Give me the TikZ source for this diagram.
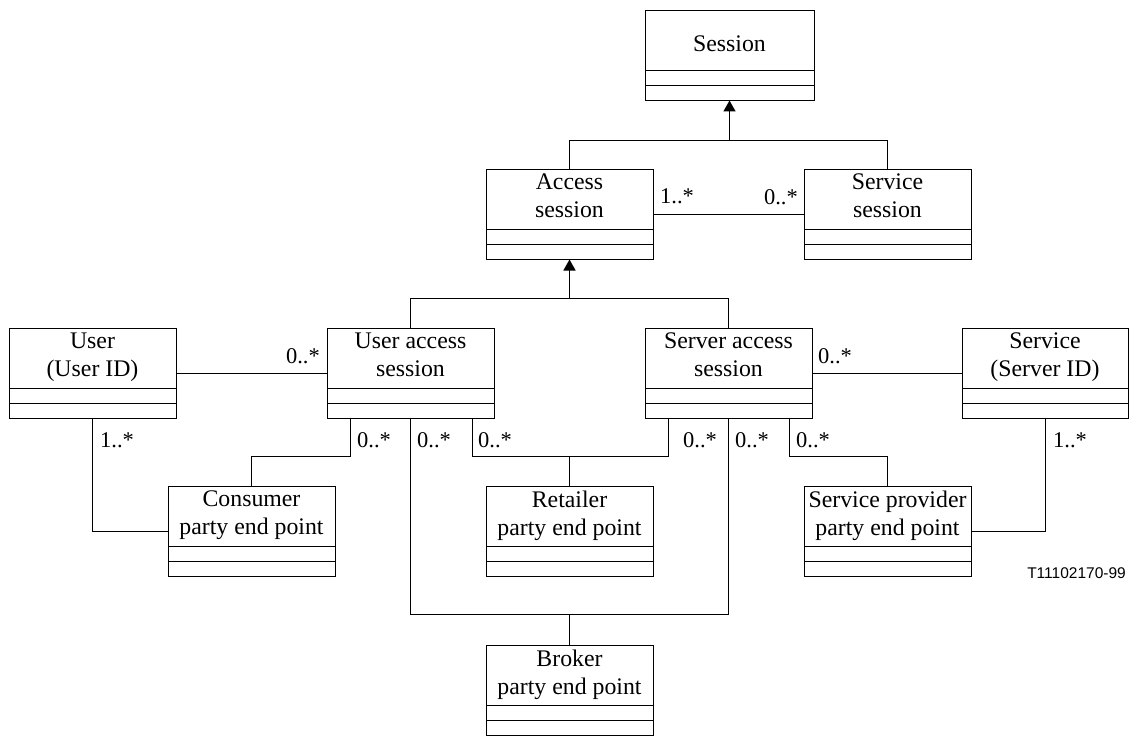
\documentclass[tikz,border=0pt]{standalone}
\usepackage{fontspec}
\setmainfont{Liberation Serif}
\newfontfamily\tagfont{Liberation Sans}
\usetikzlibrary{arrows.meta}

\tikzset{
  cls/.style={draw, line width=0.8pt, inner sep=0pt, outer sep=0pt,
    anchor=north west, minimum width=167pt, minimum height=90.5pt,
    path picture={
      \draw[line width=1.6pt]
        ([yshift=30pt]path picture bounding box.south west) --
        ([yshift=30pt]path picture bounding box.south east)
        ([yshift=15pt]path picture bounding box.south west) --
        ([yshift=15pt]path picture bounding box.south east);
    }},
  ctext/.style={anchor=north, align=center, inner sep=0pt,
    font=\fontsize{23.8}{27.5}\selectfont},
  mult/.style={inner sep=0pt, font=\fontsize{22.5}{26}\selectfont},
  conn/.style={line width=0.9pt},
  stub/.style={line width=1.5pt},
  gen/.style={line width=1.5pt, -{Triangle[width=12pt,length=11pt]}},
}

\begin{document}
\begin{tikzpicture}[x=1pt,y=-1pt]
\useasboundingbox (0,0) rectangle (1130,738);

% class boxes
\node[cls, minimum width=169pt] (session) at (645,10) {};
\node[cls] (access)   at (486,169) {};
\node[cls] (svs)      at (804,169) {};
\node[cls] (user)     at (9,328) {};
\node[cls] (uas)      at (327,328) {};
\node[cls] (sas)      at (645,328) {};
\node[cls, minimum width=166pt] (service) at (962,328) {};
\node[cls] (consumer) at (168,486) {};
\node[cls] (retailer) at (486,486) {};
\node[cls] (sp)       at (804,486) {};
\node[cls] (broker)   at (486,645) {};

% class names
\node[anchor=base, inner sep=0pt, font=\fontsize{23.8}{27.5}\selectfont]
  (session-t) at ([yshift=-42pt]session.north) {Session};
\node[ctext] (access-t)   at ([yshift=-5pt]access.north)   {Access\\session};
\node[ctext] (svs-t)      at ([yshift=-5pt]svs.north)      {Service\\session};
\node[ctext] (user-t)     at ([yshift=-5pt]user.north)     {User\\(User ID)};
\node[ctext] (uas-t)      at ([yshift=-5pt]uas.north)      {User access\\session};
\node[ctext] (sas-t)      at ([yshift=-5pt]sas.north)      {Server access\\session};
\node[ctext] (service-t)  at ([yshift=-5pt]service.north)  {Service\\(Server ID)};
\node[ctext] (consumer-t) at ([yshift=-5pt]consumer.north) {Consumer\\party end point};
\node[ctext] (retailer-t) at ([yshift=-5pt]retailer.north) {Retailer\\party end point};
\node[ctext] (sp-t)       at ([yshift=-5pt]sp.north)       {Service provider\\party end point};
\node[ctext] (broker-t)   at ([yshift=-5pt]broker.north)   {Broker\\party end point};

% generalisation: access/service session -> session
\draw[conn] (access.north) -- ++(0,-29) coordinate (j1) -| (svs.north);
\draw[gen] (session.south |- j1) -- (session.south);

% generalisation: user/server access session -> access session
\draw[conn] (uas.north) -- ++(0,-30) coordinate (j2) -| (sas.north);
\draw[gen] (access.south |- j2) -- (access.south);

% associations
\draw[conn] (access.east) -- (svs.west);
\draw[conn] (user.east) -- (uas.west);
\draw[conn] (sas.east) -- (service.west);
\draw[conn] (user.south) |- (consumer.west);
\draw[conn] (service.south) |- (sp.east);
\draw[conn] ([xshift=23pt]uas.south west) -- ++(0,38) -| (consumer.north);
\draw[conn] ([xshift=-22pt]uas.south east) -- ++(0,38) coordinate (j3)
  -| ([xshift=23pt]sas.south west);
\draw[stub] (retailer.north) -- (retailer.north |- j3);
\draw[conn] (uas.south) -- ++(0,196) coordinate (j4) -| (sas.south);
\draw[stub] (broker.north) -- (broker.north |- j4);
\draw[conn] ([xshift=-23pt]sas.south east) -- ++(0,38) -| (sp.north);

% multiplicities
\node[mult, anchor=base west] (m1)  at (660,204) {1..*};
\node[mult, anchor=base east] (m2)  at (798,205) {0..*};
\node[mult, anchor=base east] (m3)  at (320,363) {0..*};
\node[mult, anchor=base west] (m4)  at (818,363) {0..*};
\node[mult, anchor=base west] (m5)  at (100,447) {1..*};
\node[mult, anchor=base west] (m6)  at (357,447) {0..*};
\node[mult, anchor=base west] (m7)  at (417,447) {0..*};
\node[mult, anchor=base west] (m8)  at (478,447) {0..*};
\node[mult, anchor=base west] (m9)  at (683,447) {0..*};
\node[mult, anchor=base west] (m10) at (735,447) {0..*};
\node[mult, anchor=base west] (m11) at (796,447) {0..*};
\node[mult, anchor=base west] (m12) at (1053,447) {1..*};

% figure tag
\node[anchor=base east, inner sep=0pt, font=\tagfont\fontsize{15.5}{18}\selectfont]
  (tag) at (1126,578) {T11102170-99};
\end{tikzpicture}
\end{document}
